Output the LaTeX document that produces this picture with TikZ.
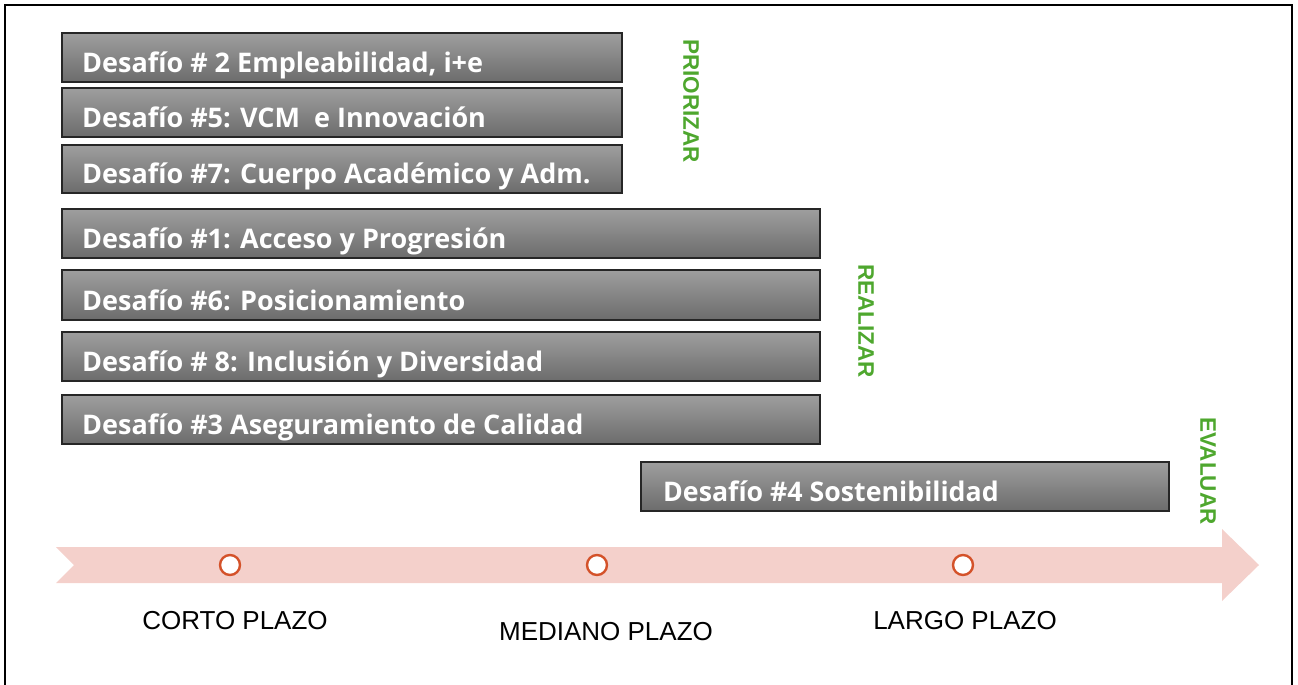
\documentclass[tikz,border=0pt]{standalone}
\usepackage{fontspec}
\setmainfont{Liberation Sans}
\newfontfamily\barfont{Open Sans}
\usetikzlibrary{
	positioning		% relative placement
	, shapes		% node shapes
}

\definecolor{bartop}{RGB}{158,158,158}
\definecolor{barbottom}{RGB}{108,108,108}
\definecolor{stagegreen}{RGB}{78,167,46}
\definecolor{arrowpink}{RGB}{244,208,203}
\definecolor{markorange}{RGB}{212,82,42}

\begin{document}
\begin{tikzpicture}[
		x=1pt, y=-1pt
		, bar/.style={draw=black!85, line width=1.5pt, top color=bartop, bottom color=barbottom}
		, bartext/.style={anchor=base west, inner sep=0pt, text=white, font=\barfont\bfseries\fontsize{27}{31}\selectfont}
		, stage/.style={rotate=-90, inner sep=0pt, text=stagegreen, font=\bfseries\fontsize{22.5}{26}\selectfont}
		, term/.style={inner sep=0pt, font=\fontsize{26}{30}\selectfont}
		, milestone/.style={circle, draw=markorange, fill=white, line width=2.4pt, minimum size=20pt, inner sep=0pt}
	]

	\useasboundingbox (0,0) rectangle (1298,685);

	% Outer frame, open at the bottom edge
	\draw[line width=2.5pt] (5,700) -- (5,5) -- (1292,5) -- (1292,700);

	% Draw the time line arrow
	\fill[arrowpink] (56,547) -- (1222,547) -- (1222,529) -- (1259,565) -- (1222,601) -- (1222,583) -- (56,583) -- (74,565) -- cycle;

	% Loop through each of the challenges
	\foreach \name/\xa/\ya/\xb/\yb/\txt in {
		dos/62/33/622/82/{Desafío \# 2 Empleabilidad, i+e},
		cinco/62/88/622/137/{Desafío \#5: VCM\ \ e Innovación},
		siete/62/145/622/193/{Desafío \#7: Cuerpo Académico y Adm.},
		uno/62/209/820/258/{Desafío \#1: Acceso y Progresión},
		seis/62/270/820/320/{Desafío \#6: Posicionamiento},
		ocho/62/332/820/381/{Desafío \# 8: Inclusión y Diversidad},
		tres/62/395/820/444/{Desafío \#3 Aseguramiento de Calidad}} {

		% Draw the bar and clip its text at the lower edge
		\draw[bar] (\xa,\ya) rectangle (\xb,\yb);
		\begin{scope}
			\clip (\xa,\ya) rectangle (\xb,\yb);
			\node[bartext] (\name) at (\xa+20,\yb-10) {\txt};
		\end{scope}
	};

	% The long-term challenge, set a bit narrower
	\draw[bar] (641,462) rectangle (1169,511);
	\node[bartext, xscale=0.99] (cuatro) at (663,501) {Desafío \#4 Sostenibilidad};

	% Stage labels
	\node[stage] (priorizar) at (691,101) {PRIORIZAR};
	\node[stage] (realizar) at (866,321) {REALIZAR};
	\node[stage] (evaluar) at (1208,471) {EVALUAR};

	% Milestones on the time line with their terms
	\foreach \name/\x/\lx/\ly/\term in {corto/230/235/621/CORTO PLAZO, mediano/597/606/632/MEDIANO PLAZO, largo/963/965/621/LARGO PLAZO} {
		\node[milestone] (\name) at (\x,565) {};
		\node[term] (\name term) at (\lx,\ly) {\term};
	};
\end{tikzpicture}
\end{document}
